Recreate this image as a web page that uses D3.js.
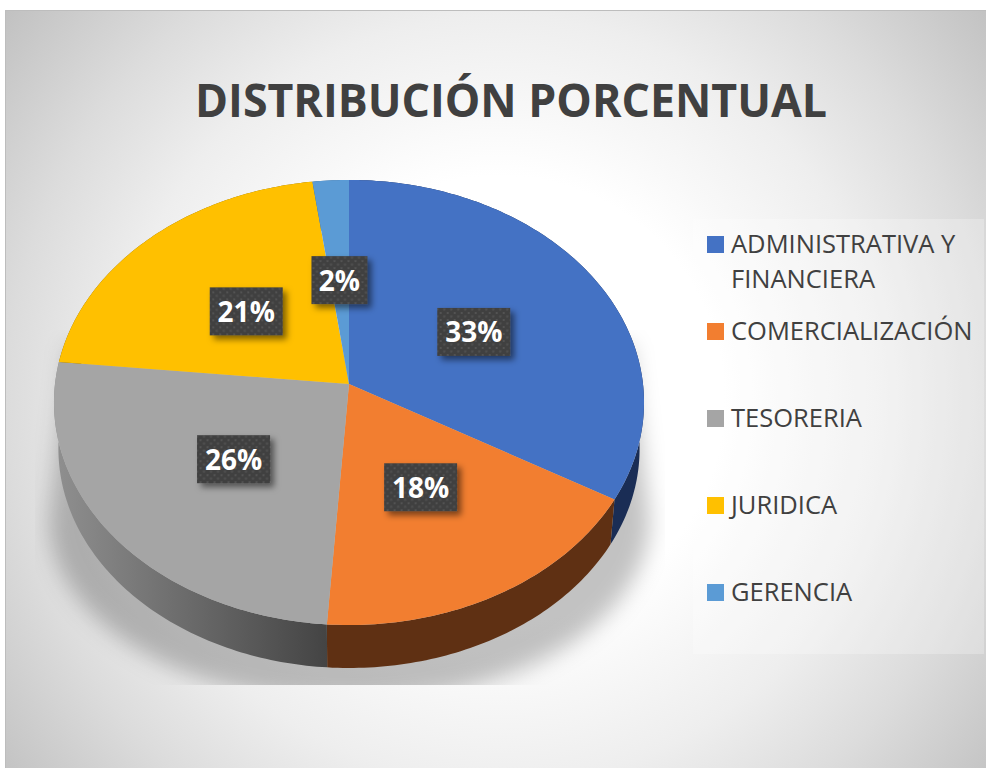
<!DOCTYPE html>
<html>
<head>
<meta charset="utf-8">
<script src="https://cdn.jsdelivr.net/npm/d3@7"></script>
<style>
  html, body { margin: 0; padding: 0; background: #fff; }
  svg { display: block; }
  text { font-family: "Open Sans", sans-serif; }
</style>
</head>
<body>
<svg id="chart" width="986" height="768"></svg>
<script>
// Chart data (shares, labels show them rounded)
const categories = ['ADMINISTRATIVA Y FINANCIERA', 'COMERCIALIZACIÓN', 'TESORERIA', 'JURIDICA', 'GERENCIA'];
const shares = [33.35, 17.75, 25.5, 21.25, 2.15];
const topColors = ['#4472c4', '#f27e30', '#a5a5a5', '#ffc000', '#5b9bd5'];
const sideColors = ['#1a2d55', '#5f3013', 'url(#greySide)', '#7f6000', '#2f5f8f'];
const titleText = 'DISTRIBUCIÓN PORCENTUAL';

const svg = d3.select('#chart');
const defs = svg.append('defs');

// Background gradient
const bg = defs.append('radialGradient').attr('id', 'panelBg')
  .attr('gradientUnits', 'userSpaceOnUse')
  .attr('cx', 500).attr('cy', 400).attr('r', 640);
[[0, '#ffffff'], [0.35, '#ffffff'], [0.45, '#f8f8f8'], [0.6, '#eeeeee'], [0.77, '#dcdcdc'], [1, '#bfbfbf']]
  .forEach(([o, c]) => bg.append('stop').attr('offset', o).attr('stop-color', c));

// Grey side wall gets darker toward the front
const greySide = defs.append('linearGradient').attr('id', 'greySide')
  .attr('gradientUnits', 'userSpaceOnUse')
  .attr('x1', 60).attr('x2', 327).attr('y1', 0).attr('y2', 0);
greySide.append('stop').attr('offset', 0).attr('stop-color', '#8e8e8e');
greySide.append('stop').attr('offset', 1).attr('stop-color', '#444444');

defs.append('filter').attr('id', 'pieShadow')
  .attr('x', '-20%').attr('y', '-20%').attr('width', '140%').attr('height', '140%')
  .append('feGaussianBlur').attr('stdDeviation', 11);

const labelShadow = defs.append('filter').attr('id', 'labelShadow')
  .attr('x', '-30%').attr('y', '-30%').attr('width', '170%').attr('height', '170%');
labelShadow.append('feDropShadow')
  .attr('dx', 4).attr('dy', 4).attr('stdDeviation', 3)
  .attr('flood-color', '#000').attr('flood-opacity', 0.5);

// Dotted fill of the data labels
const dots = defs.append('pattern').attr('id', 'labelDots')
  .attr('patternUnits', 'userSpaceOnUse')
  .attr('width', 7).attr('height', 7);
dots.append('rect').attr('width', 7).attr('height', 7).attr('fill', '#404040');
dots.append('rect').attr('x', 1).attr('y', 1).attr('width', 2).attr('height', 2).attr('fill', '#535353');
dots.append('rect').attr('x', 4.5).attr('y', 4.5).attr('width', 2).attr('height', 2).attr('fill', '#535353');

defs.append('clipPath').attr('id', 'shadowClip')
  .append('rect').attr('x', 35).attr('y', 330).attr('width', 630).attr('height', 355);

// Panel
svg.append('rect').attr('x', 5).attr('y', 10).attr('width', 981).attr('height', 758)
  .attr('fill', 'url(#panelBg)');
svg.append('path').attr('d', 'M5.5,768V10.5H986').attr('fill', 'none').attr('stroke', '#bdbdbd');

// Title
const title = svg.append('text')
  .attr('x', 511).attr('y', 117)
  .attr('text-anchor', 'middle')
  .attr('font-size', 46).attr('font-weight', 700).attr('fill', '#404040')
  .text(titleText);
title.attr('textLength', 632).attr('lengthAdjust', 'spacingAndGlyphs');

// Perspective projection of the unit disc onto the page
const apex = { x: 349, y: 384 };
const persp = { a: 294, b: 221, p: 0.083 };
function project(angle, r, scale = 1, drop = 0) {
  const u = r * Math.sin(angle);
  const v = -r * Math.cos(angle);
  const w = 1 - persp.p * v;
  return [
    apex.x + scale * persp.a * u / w,
    apex.y + scale * persp.b * v / w + drop
  ];
}
const wallScale = 0.985;
const wallDrop = 46.6;

const pie = d3.pie().sort(null).value((d) => d);
const arcs = pie(shares);
const line = d3.line();

function rim(d, scale, drop) {
  const steps = Math.max(2, Math.ceil((d.endAngle - d.startAngle) * 60));
  return d3.range(steps + 1).map((i) =>
    project(d.startAngle + (d.endAngle - d.startAngle) * i / steps, 1, scale, drop));
}

// Soft shadow below the pie: narrow behind it, widening toward the base
const shadowBase = d3.range(0, 61).map((i) => {
  const t = Math.PI / 2 + Math.PI * i / 60;
  return [349.5 + 300 * Math.sin(t), 520 - 182 * Math.cos(t)];
});
svg.append('g').attr('clip-path', 'url(#shadowClip)')
  .append('path')
  .attr('d', line([[630, 345]].concat(shadowBase, [[69, 345]])) + 'Z')
  .attr('fill', '#000').attr('fill-opacity', 0.24)
  .attr('filter', 'url(#pieShadow)');

// Side walls first, then the top faces above them
svg.append('g').selectAll('path').data(arcs).join('path')
  .attr('d', (d) => line(rim(d, 1, 0).concat(rim(d, wallScale, wallDrop).reverse())) + 'Z')
  .attr('fill', (d, i) => sideColors[i]);

svg.append('g').selectAll('path').data(arcs).join('path')
  .attr('d', (d) => line([[apex.x, apex.y]].concat(rim(d, 1, 0))) + 'Z')
  .attr('fill', (d, i) => topColors[i]);

// Data labels
const labels = svg.append('g').selectAll('g').data(arcs).join('g')
  .attr('transform', (d) => {
    const [x, y] = project((d.startAngle + d.endAngle) / 2, 0.5, 1, 2);
    return `translate(${x},${y})`;
  });
labels.append('rect')
  .attr('x', (d) => (d.data < 10 ? -28 : -36.5))
  .attr('y', -24)
  .attr('width', (d) => (d.data < 10 ? 56 : 73))
  .attr('height', 48)
  .attr('fill', 'url(#labelDots)')
  .attr('filter', 'url(#labelShadow)');
labels.append('text')
  .attr('text-anchor', 'middle')
  .attr('y', 10.5)
  .attr('font-size', 28).attr('font-weight', 700).attr('fill', '#fff')
  .text((d) => `${Math.round(d.data)}%`);

// Legend
svg.append('rect').attr('x', 693).attr('y', 219).attr('width', 291).attr('height', 435)
  .attr('fill', '#fff').attr('fill-opacity', 0.25);

const legendY = d3.scalePoint().domain(d3.range(1, categories.length)).range([331.5, 592.5]);
function rowY(i) { return i === 0 ? 244.5 : legendY(i); }

const legendRows = svg.append('g').selectAll('g').data(categories).join('g')
  .attr('transform', (d, i) => `translate(707,${rowY(i)})`);
legendRows.append('rect')
  .attr('y', -8.5).attr('width', 17).attr('height', 17)
  .attr('fill', (d, i) => topColors[i]);
legendRows.each(function (d) {
  // the long first name wraps into two lines
  const lines = d.length > 20 ? ['ADMINISTRATIVA Y', 'FINANCIERA'] : [d];
  d3.select(this).selectAll('text').data(lines).join('text')
    .attr('x', 24)
    .attr('y', (l, j) => 8 + j * 35.5)
    .attr('font-size', 25.5)
    .attr('fill', '#404040')
    .text((l) => l);
});
</script>
</body>
</html>
